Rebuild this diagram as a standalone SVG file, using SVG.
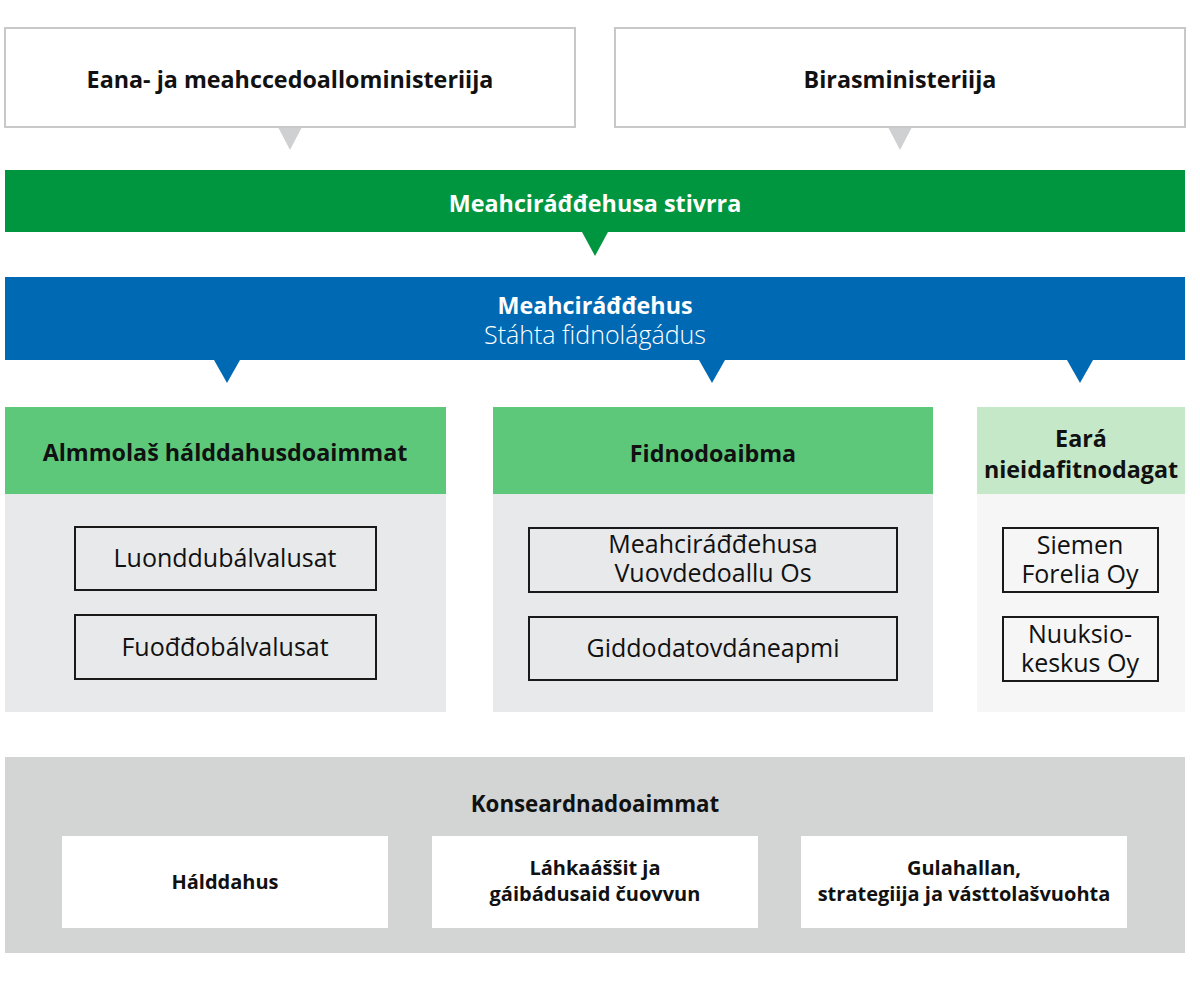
<svg xmlns="http://www.w3.org/2000/svg" width="1200" height="1000" viewBox="0 0 1200 1000">
<style>
text{font-family:"Open Sans","Liberation Sans",sans-serif;text-anchor:middle}
.b{font-weight:bold;font-size:23.3px;fill:#111}
.w{fill:#fff}
.r{font-size:25px;fill:#111}
.l{font-weight:300;font-size:25px;fill:#fff}
.s{font-size:20px}
.top{fill:#fff;stroke:#c8c8c8;stroke-width:2}
.inner{fill:none;stroke:#1a1a1a;stroke-width:2}
.wb{fill:#fff}
</style>
<rect width="1200" height="1000" fill="#fff"/>
<g id="connectors">
<polygon points="278,127 302,127 290,150" fill="#cfd0d2"/>
<polygon points="888,127 912,127 900,150" fill="#cfd0d2"/>
<polygon points="582,232 608,232 595,256" fill="#009640"/>
<polygon points="214,360 240,360 227,383" fill="#0069b4"/>
<polygon points="699,360 725,360 712,383" fill="#0069b4"/>
<polygon points="1067,360 1093,360 1080,383" fill="#0069b4"/>
</g>
<g id="ministry1">
<rect class="top" x="5" y="28" width="570" height="99"/>
<text class="b" x="290" y="88">Eana- ja meahccedoalloministeriija</text>
</g>
<g id="ministry2">
<rect class="top" x="615" y="28" width="570" height="99"/>
<text class="b" x="900" y="88">Birasministeriija</text>
</g>
<g id="board">
<rect x="5" y="170" width="1180" height="62" fill="#009640"/>
<text class="b w" x="595" y="212">Meahciráđđehusa stivrra</text>
</g>
<g id="agency">
<rect x="5" y="277" width="1180" height="83" fill="#0069b4"/>
<text x="595" y="314"><tspan class="b w">Meahciráđđehus</tspan><tspan class="l" x="595" dy="30">Stáhta fidnolágádus</tspan></text>
</g>
<g id="public">
<rect x="5" y="407" width="441" height="87" fill="#5dc87a"/>
<rect x="5" y="494" width="441" height="218" fill="#e8e9eb"/>
<text class="b" x="225" y="461">Almmolaš hálddahusdoaimmat</text>
</g>
<g id="luonddu">
<rect class="inner" x="75" y="527" width="301" height="63"/>
<text class="r" x="225" y="567">Luonddubálvalusat</text>
</g>
<g id="fuoddo">
<rect class="inner" x="75" y="615" width="301" height="64"/>
<text class="r" x="225" y="656">Fuođđobálvalusat</text>
</g>
<g id="business">
<rect x="493" y="407" width="440" height="87" fill="#5dc87a"/>
<rect x="493" y="494" width="440" height="218" fill="#e8e9eb"/>
<text class="b" x="713" y="462">Fidnodoaibma</text>
</g>
<g id="vuovde">
<rect class="inner" x="529" y="528" width="368" height="64"/>
<text class="r" x="713" y="553">Meahciráđđehusa<tspan x="713" dy="29">Vuovdedoallu Os</tspan></text>
</g>
<g id="giddo">
<rect class="inner" x="529" y="617" width="368" height="63"/>
<text class="r" x="713" y="657">Giddodatovdáneapmi</text>
</g>
<g id="other">
<rect x="977" y="407" width="208" height="87" fill="#c5e8c8"/>
<rect x="977" y="494" width="208" height="218" fill="#f6f6f6"/>
<text class="b" x="1081" y="447">Eará<tspan x="1081" dy="31">nieidafitnodagat</tspan></text>
</g>
<g id="siemen">
<rect class="inner" x="1003" y="528" width="155" height="64"/>
<text class="r" x="1080" y="554">Siemen<tspan x="1080" dy="29">Forelia Oy</tspan></text>
</g>
<g id="nuuksio">
<rect class="inner" x="1003" y="617" width="155" height="64"/>
<text class="r" x="1080" y="643">Nuuksio-<tspan x="1080" dy="29">keskus Oy</tspan></text>
</g>
<g id="group">
<rect x="5" y="757" width="1180" height="196" fill="#d3d4d4"/>
<text class="b" x="595" y="812" style="font-size:22.3px">Konseardnadoaimmat</text>
</g>
<g id="halddahus">
<rect class="wb" x="62" y="836" width="326" height="92"/>
<text class="b s" x="225" y="889">Hálddahus</text>
</g>
<g id="lahka">
<rect class="wb" x="432" y="836" width="326" height="92"/>
<text class="b s" x="595" y="875">Láhkaáššit ja<tspan x="595" dy="26">gáibádusaid čuovvun</tspan></text>
</g>
<g id="gula">
<rect class="wb" x="801" y="836" width="326" height="92"/>
<text class="b s" x="964" y="875">Gulahallan,<tspan x="964" dy="26">strategiija ja vásttolašvuohta</tspan></text>
</g>
</svg>
